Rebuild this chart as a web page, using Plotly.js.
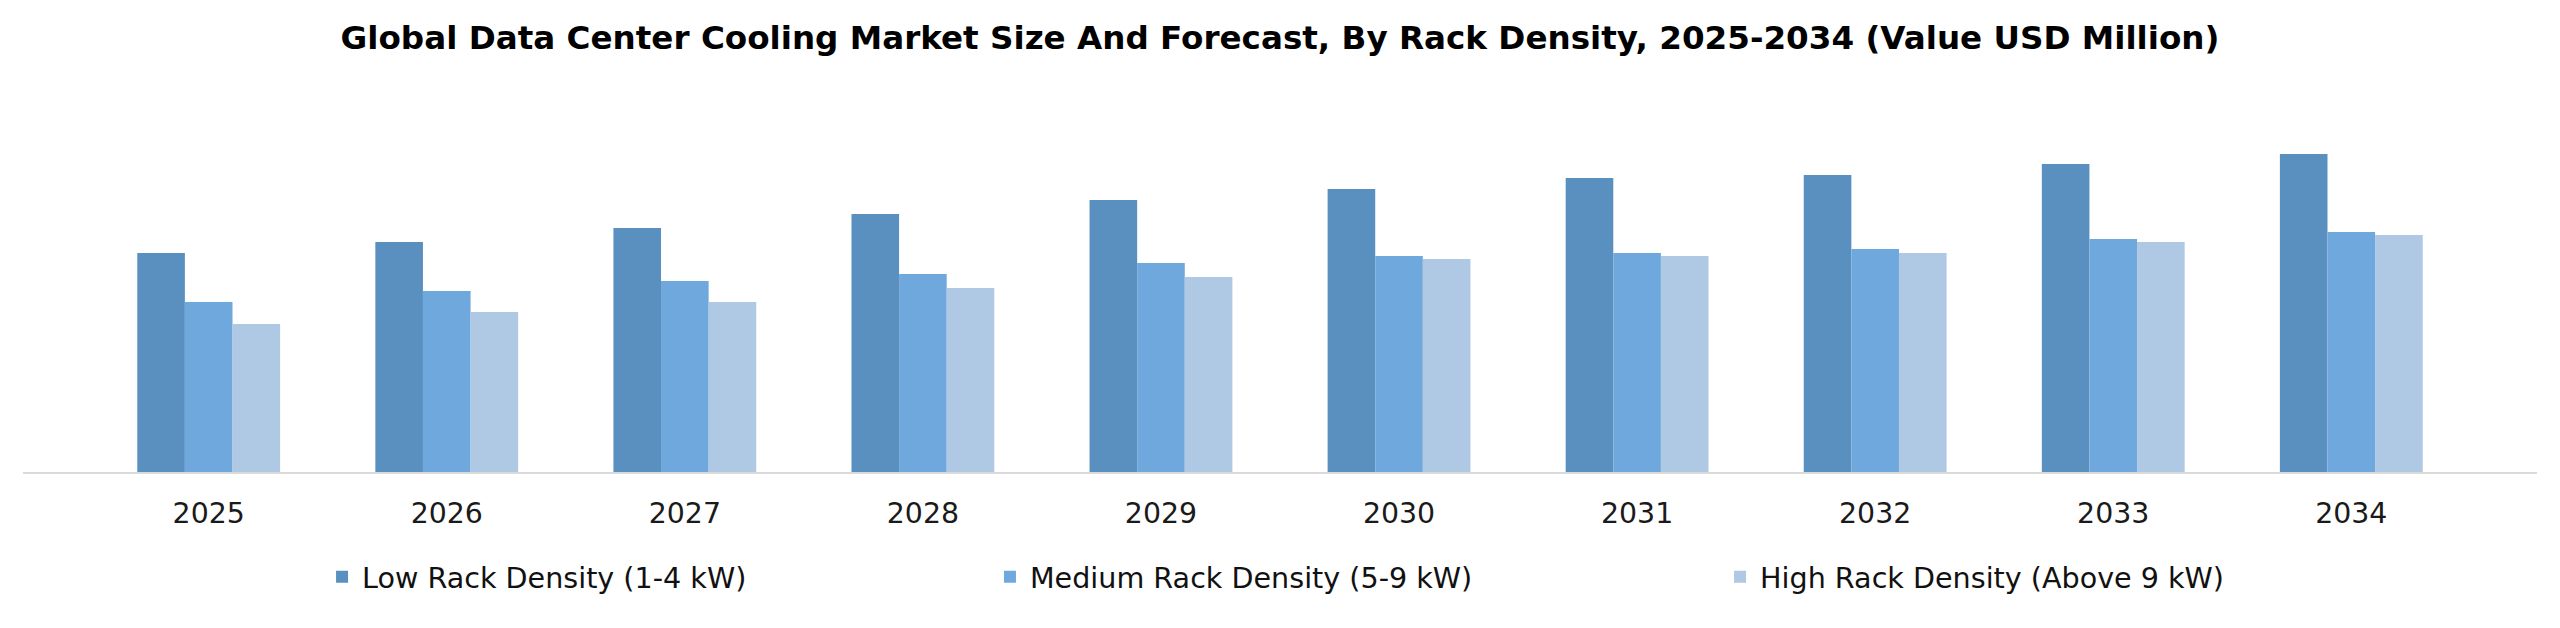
<!DOCTYPE html>
<html>
<head>
<meta charset="utf-8">
<script src="https://cdn.plot.ly/plotly-3.0.1.min.js"></script>
<style>
  html, body { margin: 0; padding: 0; background: #fff; }
  #chart { width: 2560px; height: 628px; }
</style>
</head>
<body>
<div id="chart"></div>
<script>
// values in USD Million
const years = ['2025', '2026', '2027', '2028', '2029', '2030', '2031', '2032', '2033', '2034'];
const lowDensity = [8760, 9200, 9760, 10320, 10880, 11320, 11760, 11880, 12320, 12720];
const mediumDensity = [6800, 7240, 7640, 7920, 8360, 8640, 8760, 8920, 9320, 9600];
const highDensity = [5920, 6400, 6800, 7360, 7800, 8520, 8640, 8760, 9200, 9480];
const seriesNames = ['Low Rack Density (1-4 kW)', 'Medium Rack Density (5-9 kW)', 'High Rack Density (Above 9 kW)'];

const font = 'DejaVu Sans, Verdana, sans-serif';

let data = [
    { type: 'bar', x: years, y: lowDensity, name: seriesNames[0],
      marker: { color: '#5a90c0' }, legend: 'legend', hoverinfo: 'y+name' },
    { type: 'bar', x: years, y: mediumDensity, name: seriesNames[1],
      marker: { color: '#6fa8dc' }, legend: 'legend2', hoverinfo: 'y+name' },
    { type: 'bar', x: years, y: highDensity, name: seriesNames[2],
      marker: { color: '#afc8e4' }, legend: 'legend3', hoverinfo: 'y+name' }
];

// one legend per series so each entry sits where the original has it
function legendAt(x) {
    return {
        xref: 'container', yref: 'container',
        x: x, y: 0.081, xanchor: 'left', yanchor: 'middle',
        orientation: 'h', bgcolor: 'rgba(0,0,0,0)',
        font: { family: font, size: 28.6, color: '#111' }
    };
}

let layout = {
    width: 2560, height: 628,
    paper_bgcolor: '#fff', plot_bgcolor: '#fff',
    margin: { l: 23, r: 23, t: 120, b: 156 },
    title: {
        text: 'Global Data Center Cooling Market Size And Forecast, By Rack Density, 2025-2034 (Value USD Million)',
        font: { family: font, size: 32.6, color: '#000', weight: 'bold' },
        x: 0.5, xanchor: 'center', xref: 'container',
        y: 0.94, yanchor: 'middle', yref: 'container'
    },
    barmode: 'group', bargap: 0.4, bargroupgap: 0,
    xaxis: {
        type: 'category', range: [-0.78, 9.78],
        showline: true, linecolor: '#d9d9d9', linewidth: 2,
        showgrid: false, zeroline: false, ticks: '',
        ticklabelstandoff: 15,
        tickfont: { family: font, size: 28.4, color: '#1a1a1a' }
    },
    yaxis: {
        range: [0, 14080], visible: false,
        showgrid: false, zeroline: false
    },
    showlegend: true,
    legend: legendAt(0.1258),
    legend2: legendAt(0.3867),
    legend3: legendAt(0.6719)
};

Plotly.newPlot('chart', data, layout, { displayModeBar: false, staticPlot: true });
</script>
</body>
</html>
